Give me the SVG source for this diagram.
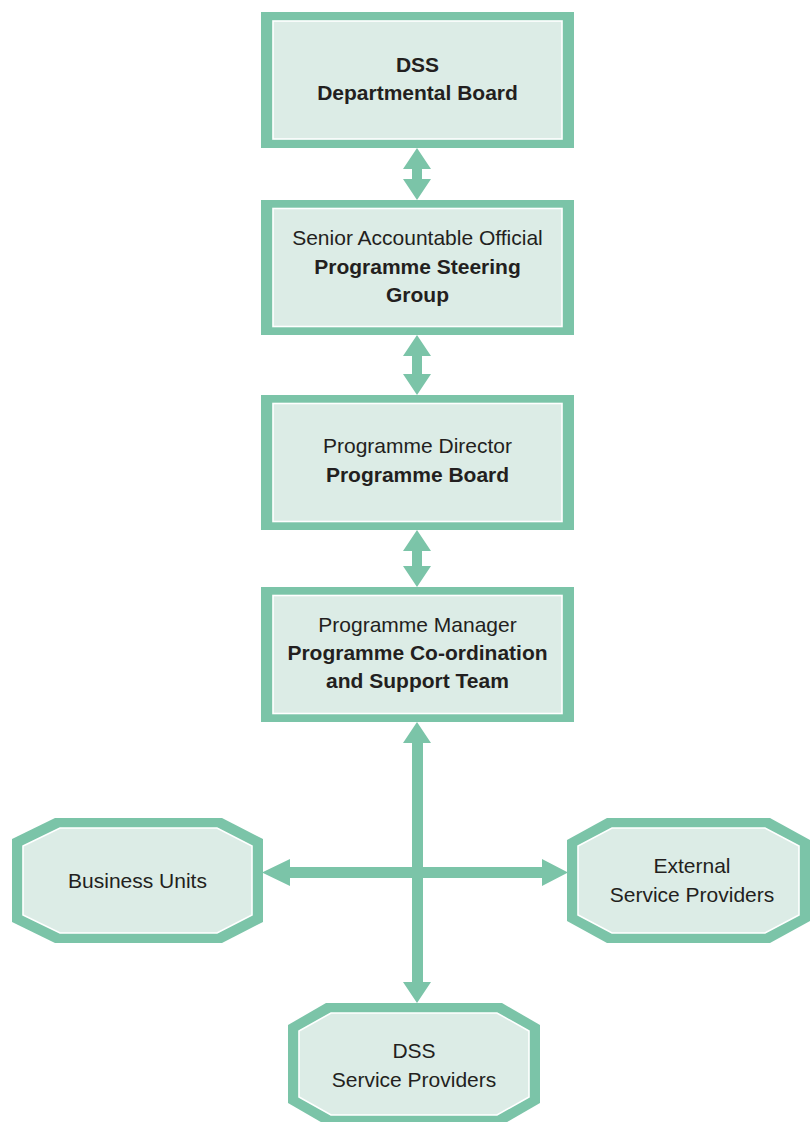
<svg xmlns="http://www.w3.org/2000/svg" width="811" height="1122" viewBox="0 0 811 1122">
  <style>
    .frame { fill: #7BC4A8; }
    .panel { fill: #DCECE6; stroke: #FFFFFF; stroke-width: 1.6; }
    .conn { fill: #7BC4A8; }
    text { font-family: "Liberation Sans", Arial, Helvetica, sans-serif; font-size: 21px; fill: #231F20; text-anchor: middle; }
    .b { font-weight: bold; }
  </style>
  <rect width="811" height="1122" fill="#FFFFFF"/>

  <!-- connectors -->
  <g id="connectors">
    <path class="conn" d="M417,148 L431,169 L422,169 L422,179 L431,179 L417,200 L403,179 L412,179 L412,169 L403,169 Z"/>
    <path class="conn" d="M417,335 L431,356 L422,356 L422,374 L431,374 L417,395 L403,374 L412,374 L412,356 L403,356 Z"/>
    <path class="conn" d="M417,530 L431,551 L422,551 L422,566 L431,566 L417,587 L403,566 L412,566 L412,551 L403,551 Z"/>
    <!-- vertical trunk -->
    <path class="conn" d="M417,722 L431,743 L423,743 L423,982 L431,982 L417,1003 L403,982 L412,982 L412,743 L403,743 Z"/>
    <!-- horizontal branch -->
    <path class="conn" d="M262,872.5 L290,859 L290,867 L542,867 L542,859 L568,872.5 L542,886 L542,878 L290,878 L290,886 Z"/>
  </g>

  <g id="departmental-board">
    <rect class="frame" x="261" y="12" width="313" height="136"/>
    <rect class="panel" x="273" y="21" width="289" height="118"/>
    <text class="b" x="417.5" y="72">DSS</text>
    <text class="b" x="417.5" y="100">Departmental Board</text>
  </g>

  <g id="steering-group">
    <rect class="frame" x="261" y="200" width="313" height="135"/>
    <rect class="panel" x="273" y="208.5" width="289" height="118"/>
    <text x="417.5" y="245">Senior Accountable Official</text>
    <text class="b" x="417.5" y="274">Programme Steering</text>
    <text class="b" x="417.5" y="302">Group</text>
  </g>

  <g id="programme-board">
    <rect class="frame" x="261" y="395" width="313" height="135"/>
    <rect class="panel" x="273" y="403.5" width="289" height="118"/>
    <text x="417.5" y="453">Programme Director</text>
    <text class="b" x="417.5" y="482">Programme Board</text>
  </g>

  <g id="coordination-team">
    <rect class="frame" x="261" y="587" width="313" height="135"/>
    <rect class="panel" x="273" y="595.5" width="289" height="118"/>
    <text x="417.5" y="632">Programme Manager</text>
    <text class="b" x="417.5" y="660">Programme Co-ordination</text>
    <text class="b" x="417.5" y="688">and Support Team</text>
  </g>

  <g id="business-units">
    <polygon class="frame" points="55,818 222,818 263,839 263,922 222,943 55,943 12,922 12,839"/>
    <polygon class="panel" points="60,828 217,828 252,846 252,915 217,933 60,933 23,915 23,846"/>
    <text x="137.5" y="888">Business Units</text>
  </g>

  <g id="external-providers">
    <polygon class="frame" points="607,818 770,818 810,840 810,921 770,943 607,943 567,921 567,840"/>
    <polygon class="panel" points="612,828 765,828 799,846 799,915 765,933 612,933 578,915 578,846"/>
    <text x="692" y="873">External</text>
    <text x="692" y="902">Service Providers</text>
  </g>

  <g id="dss-providers">
    <polygon class="frame" points="326,1003 502,1003 540,1025 540,1103 502,1125 326,1125 288,1103 288,1025"/>
    <polygon class="panel" points="331,1013 497,1013 529,1031 529,1097 497,1115 331,1115 299,1097 299,1031"/>
    <text x="414" y="1058">DSS</text>
    <text x="414" y="1087">Service Providers</text>
  </g>
</svg>
